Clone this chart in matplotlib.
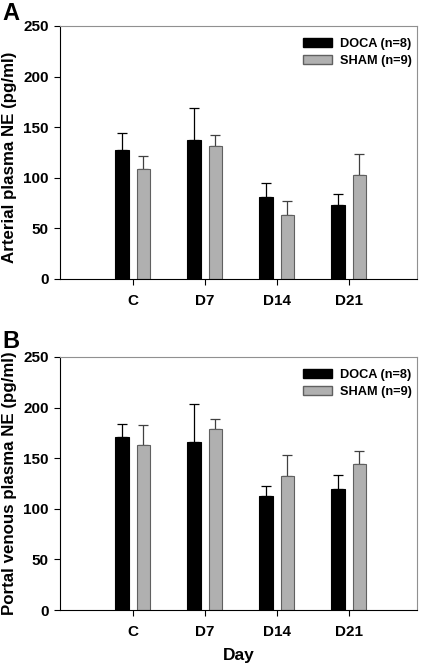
import numpy as np
import matplotlib
matplotlib.use('Agg')
import matplotlib.pyplot as plt
from matplotlib.patches import Patch

plt.rcParams['font.family'] = ['Liberation Sans', 'DejaVu Sans']
plt.rcParams['font.weight'] = 'bold'

days = ['C', 'D7', 'D14', 'D21']

# panel A: arterial plasma NE (pg/ml), mean and upper SEM
art_doca = [127, 137.5, 81.3, 72.7]
art_doca_err = [17.7, 31.6, 13.1, 11.2]
art_sham = [108.6, 131.9, 63.2, 102.3]
art_sham_err = [12.5, 10.5, 13.5, 21.7]

# panel B: portal venous plasma NE (pg/ml)
por_doca = [171, 166.4, 112.5, 119.1]
por_doca_err = [13.2, 37.5, 10.2, 14.1]
por_sham = [163.5, 179.3, 132.9, 144.7]
por_sham_err = [19.0, 9.5, 20.4, 12.9]

fig = plt.figure(figsize=(4.25, 6.66), dpi=100)
W, H = 425, 666
axA = fig.add_axes([60 / W, 1 - 279 / H, 357 / W, 253 / H])
axB = fig.add_axes([60 / W, 1 - 610 / H, 357 / W, 253 / H])

x = np.arange(1, 5)
bw = 0.19
off = 0.15

def draw(ax, doca, doca_err, sham, sham_err, ylabel, ly):
    ax.bar(x - off, doca, bw, color='black', edgecolor='black', lw=0.8, zorder=2)
    ax.bar(x + off, sham, bw, color='#b0b0b0', edgecolor='#606060', lw=0.8, zorder=2)
    ax.errorbar(x - off, doca, yerr=[np.zeros(4), doca_err], fmt='none',
                ecolor='black', elinewidth=0.9, capsize=3.3, capthick=0.9, zorder=1)
    ax.errorbar(x + off, sham, yerr=[np.zeros(4), sham_err], fmt='none',
                ecolor='#404040', elinewidth=0.9, capsize=3.3, capthick=0.9, zorder=1)
    ax.set_xlim(-0.01, 4.95)
    ax.set_ylim(0, 250)
    ax.set_yticks([0, 50, 100, 150, 200, 250])
    ax.set_xticks(x)
    ax.set_xticklabels(days)
    ax.tick_params(axis='both', labelsize=11, direction='out', length=4, width=0.8)
    ax.tick_params(axis='x', pad=7)
    ax.tick_params(axis='y', pad=4)
    for lab in ax.get_xticklabels() + ax.get_yticklabels():
        lab.set_fontweight('bold')
    ax.spines['left'].set_color('black')
    ax.spines['bottom'].set_color('black')
    ax.spines['top'].set_color('#909090')
    ax.spines['right'].set_color('#909090')
    for s in ax.spines.values():
        s.set_linewidth(0.8)
    ax.set_ylabel(ylabel, fontsize=12.2, fontweight='bold')
    ax.yaxis.set_label_coords(-43 / 357, ly)
    handles = [Patch(facecolor='black', edgecolor='black', label='DOCA (n=8)'),
               Patch(facecolor='#b0b0b0', edgecolor='#606060', label='SHAM (n=9)')]
    ax.legend(handles=handles, loc='upper right', frameon=False,
              bbox_to_anchor=(352 / 357, 1 - 12 / 253), borderaxespad=0, borderpad=0,
              prop={'size': 9.2, 'weight': 'bold'}, handlelength=2.3, handleheight=0.75,
              handletextpad=0.6, labelspacing=0.35)

draw(axA, art_doca, art_doca_err, art_sham, art_sham_err, 'Arterial plasma NE (pg/ml)', 0.48)
draw(axB, por_doca, por_doca_err, por_sham, por_sham_err, 'Portal venous plasma NE (pg/ml)', 0.5)
axB.set_xlabel('Day', fontsize=12.5, fontweight='bold', labelpad=6)

fig.text(2 / W, 1 - 2 / H, 'A', fontsize=17, fontweight='bold', va='top', ha='left')
fig.text(2 / W, 1 - 330 / H, 'B', fontsize=17, fontweight='bold', va='top', ha='left')

fig.savefig('out.png', dpi=100)
